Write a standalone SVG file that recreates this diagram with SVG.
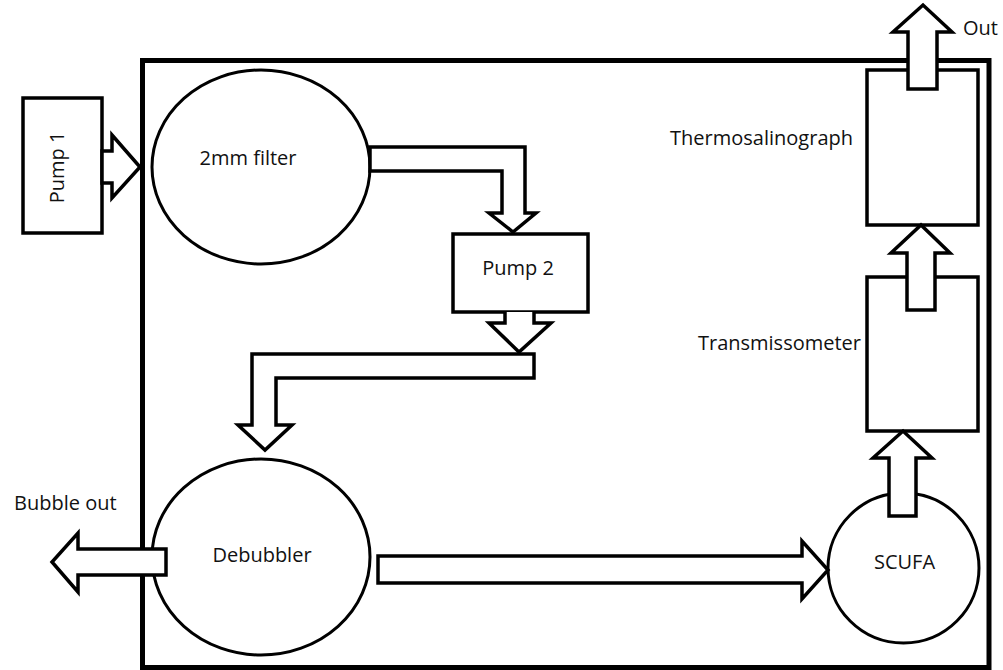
<svg xmlns="http://www.w3.org/2000/svg" width="1003" height="670" viewBox="0 0 1003 670">
<style>
.shape{fill:#fff;stroke:#000;stroke-width:3.5;stroke-linejoin:miter}
.circ{fill:#fff;stroke:#000;stroke-width:3}
.arrow{fill:#fff;stroke:#000;stroke-width:3.5;stroke-linejoin:miter}
.lbl{font-family:"Open Sans","Liberation Sans",sans-serif;font-size:20px;fill:#111}
</style>
<rect width="1003" height="670" fill="#fff"/>
<g id="frame"><rect x="142.5" y="60.5" width="846.5" height="607" fill="none" stroke="#000" stroke-width="5"/></g>
<g id="pump1"><rect class="shape" x="23" y="98" width="79" height="135"/><text class="lbl" transform="translate(64,167.5) rotate(-90)" text-anchor="middle" font-size="19">Pump 1</text></g>
<g id="filter"><ellipse class="circ" cx="261" cy="167" rx="109" ry="97"/><text class="lbl" x="248" y="165" text-anchor="middle" font-size="21">2mm filter</text></g>
<g id="pump2"><rect class="shape" x="453" y="234" width="135" height="78"/><text class="lbl" x="518" y="275" text-anchor="middle">Pump 2</text></g>
<g id="debubbler"><ellipse class="circ" cx="261" cy="557" rx="109" ry="98"/><text class="lbl" x="262" y="562" text-anchor="middle">Debubbler</text></g>
<g id="scufa"><ellipse class="circ" cx="903.5" cy="568" rx="75.5" ry="75"/><text class="lbl" x="904.5" y="569" text-anchor="middle" font-size="19">SCUFA</text></g>
<g id="transmissometer"><rect class="shape" x="867" y="277" width="111" height="154"/><text class="lbl" x="861" y="350" text-anchor="end">Transmissometer</text></g>
<g id="thermosalinograph"><rect class="shape" x="867" y="70" width="111" height="155"/><text class="lbl" x="853" y="145" text-anchor="end">Thermosalinograph</text></g>
<g id="labels"><text class="lbl" x="963" y="35">Out</text><text class="lbl" x="14" y="510">Bubble out</text></g>
<g id="connectors">
<path class="arrow" d="M102,151 H112 V135 L140,167 L112,198 V183 H102 Z"/>
<path class="arrow" d="M370,147 H525 V213 H536 L513,232 L489,213 H502 V171 H370 Z"/>
<path class="arrow" d="M505,312 V323 H489 L519,352 L551,323 H534 V312"/>
<path class="arrow" d="M534,354 V378 H276 V425 H292 L265,450 L238,425 H252 V354 Z"/>
<path class="arrow" d="M378,556 H802 V541 L828,570 L802,599 V583 H378 Z"/>
<path class="arrow" d="M166,549 H78 V533 L52,562 L78,592 V575 H166 Z"/>
<path class="arrow" d="M889,516 V458 H873 L903,431 L932,458 H916 V516 Z"/>
<path class="arrow" d="M907,310 V253 H891 L921,225 L950,253 H935 V310 Z"/>
<path class="arrow" d="M908,89 V32 H893 L923,5 L952,32 H937 V89 Z"/>
</g>
</svg>
